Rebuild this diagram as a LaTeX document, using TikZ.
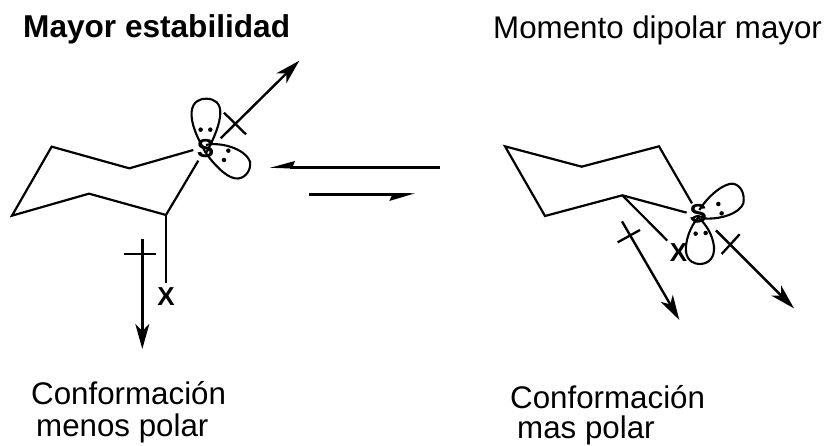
\documentclass[tikz,border=0pt]{standalone}
\usepackage{fontspec}
\setmainfont{Liberation Sans}
\usetikzlibrary{arrows.meta}
\tikzset{
  bond/.style={line width=2.2pt,line join=miter},
  orbital/.style={line width=2.1pt},
  dipole/.style={line width=2.4pt,-{Stealth[length=25pt,width=14pt,inset=7pt]}},
  cross/.style={line width=2.3pt},
  eqarrow/.style={line width=2.6pt},
  harpoonhead/.style={fill=black,draw=none},
  lonepair/.style={circle,fill=black,inner sep=0pt,minimum size=4.5pt},
  atom/.style={font=\bfseries\fontsize{26}{28}\selectfont,inner sep=0pt},
  caption/.style={anchor=base west,inner sep=0pt,font=\fontsize{31.3}{34}\selectfont},
  title/.style={anchor=base west,inner sep=0pt,font=\bfseries\fontsize{31.6}{34}\selectfont}
}
\begin{document}
\begin{tikzpicture}[x=1pt,y=-1pt]
\useasboundingbox (0,0) rectangle (830,445);
\node[title] (t1) at (23,37.5) {Mayor estabilidad};
\node[caption] (t2) at (493,38.5) {Momento dipolar mayor};
\node[caption] (c1a) at (31,404) {Conformación};
\node[caption] (c1b) at (36,436) {menos polar};
\node[caption] (c2a) at (510,408) {Conformación};
\node[caption] (c2b) at (517,438) {mas polar};
% left molecule
\begin{scope}[shift={(0,40)},x=0.3333pt,y=-0.3333pt]
\coordinate (l1) at (155,320);
\coordinate (l2) at (388,385);
\coordinate (l3) at (580,330);
\coordinate (l4) at (595,362);
\coordinate (l5) at (498,525);
\coordinate (l6) at (267,461);
\coordinate (l7) at (36,527);
\draw[bond] (l3) -- (l2) -- (l1) -- (l7) -- (l6) -- (l5) -- (l4);
\node[atom] (lX) at (498,770) {X};
\draw[bond] (l5) -- (498,728) coordinate (lXb);
\node[atom] (lS) at (617,325) {S};
\draw[orbital] (618,340) .. controls (590,290) and (572,250) .. (575,215)
  .. controls (578,185) and (600,175) .. (620,176)
  .. controls (645,177) and (662,190) .. (661,220)
  .. controls (660,250) and (645,290) .. (618,340);
\draw[orbital] (618,315) .. controls (660,305) and (735,325) .. (750,365)
  .. controls (755,395) and (730,420) .. (705,415)
  .. controls (675,410) and (640,370) .. (618,340);
\node[lonepair] (lp1) at (602,269) {};
\node[lonepair] (lp2) at (631,269) {};
\node[lonepair] (lp3) at (685,332) {};
\node[lonepair] (lp4) at (672,360) {};
\coordinate (la1) at (662,295); \coordinate (la2) at (898,62);
\draw[dipole] (la1) -- (la2);
\coordinate (lc1) at (672,218); \coordinate (lc2) at (738,283);
\draw[cross] (lc1) -- (lc2);
\coordinate (lb1) at (427,598); \coordinate (lb2) at (427,927);
\draw[dipole] (lb1) -- (lb2);
\coordinate (ld1) at (372,643); \coordinate (ld2) at (468,643);
\draw[cross] (ld1) -- (ld2);
\end{scope}
% equilibrium arrows
\coordinate (e1) at (440,167.3); \coordinate (e2) at (290,167.3);
\draw[eqarrow] (e1) -- (e2);
\fill[harpoonhead] (270,167.8) -- (295,161) -- (292,168.5) -- cycle;
\coordinate (e3) at (309,194.3); \coordinate (e4) at (395,194.3);
\draw[eqarrow] (e3) -- (e4);
\fill[harpoonhead] (415,193.3) -- (389.3,201) -- (393,193) -- cycle;
% right molecule
\begin{scope}[shift={(490,130)},x=0.3333pt,y=-0.3333pt]
\coordinate (r1) at (45,49);
\coordinate (r2) at (275,110);
\coordinate (r3) at (507,49);
\coordinate (r4) at (606,220);
\coordinate (r5) at (590,248);
\coordinate (r6) at (397,196);
\coordinate (r7) at (165,258);
\draw[bond] (r4) -- (r3) -- (r2) -- (r1) -- (r7) -- (r6) -- (r5);
\coordinate (r8) at (532,332);
\draw[bond] (r6) -- (r8);
\node[atom] (rX) at (566,368) {X};
\node[atom] (rS) at (625,250) {S};
\draw[orbital] (625,262) .. controls (600,290) and (585,335) .. (588,365)
  .. controls (592,395) and (615,403) .. (632,402)
  .. controls (660,400) and (674,380) .. (672,350)
  .. controls (668,315) and (650,285) .. (625,262);
\draw[orbital] (628,240) .. controls (660,190) and (705,160) .. (728,161)
  .. controls (755,165) and (765,195) .. (760,220)
  .. controls (750,250) and (690,270) .. (640,265)
  .. controls (625,283) and (605,275) .. (612,262)
  .. controls (618,256) and (635,258) .. (640,265);
\node[lonepair] (rp1) at (617,311) {};
\node[lonepair] (rp2) at (647,309) {};
\node[lonepair] (rp3) at (685,222) {};
\node[lonepair] (rp4) at (695,250) {};
\coordinate (ra1) at (678,301); \coordinate (ra2) at (912,535);
\draw[dipole] (ra1) -- (ra2);
\coordinate (rc1) at (749,313); \coordinate (rc2) at (695,372);
\draw[cross] (rc1) -- (rc2);
\coordinate (rb1) at (396,274); \coordinate (rb2) at (568,570);
\draw[dipole] (rb1) -- (rb2);
\coordinate (rd1) at (383,337); \coordinate (rd2) at (450,300);
\draw[cross] (rd1) -- (rd2);
\end{scope}
\end{tikzpicture}
\end{document}
